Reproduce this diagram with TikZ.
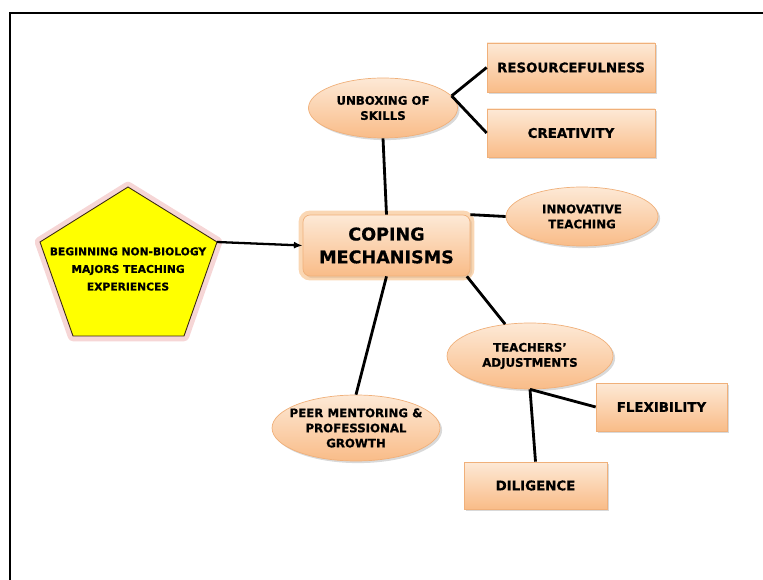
\documentclass[tikz,border=0pt]{standalone}
\usepackage{fontspec}
\setmainfont{DejaVu Sans}[BoldFeatures={FakeBold=0.6}]
\usetikzlibrary{shapes.geometric,shadows,arrows.meta}

\definecolor{peachtop}{HTML}{FDE9D6}
\definecolor{peachbot}{HTML}{F9BC88}
\definecolor{peachline}{HTML}{F0B07A}
\definecolor{glowpink}{HTML}{EBA3A3}
\definecolor{gloworange}{HTML}{F6BC82}
\definecolor{pentyellow}{HTML}{FFFF00}

\begin{document}
\begin{tikzpicture}[x=0.02cm,y=-0.02cm,
  rectbox/.style={rectangle, draw=peachline, top color=peachtop, bottom color=peachbot,
    drop shadow={shadow xshift=1.2pt, shadow yshift=-1.2pt, opacity=0.3},
    inner sep=0pt, font=\fontsize{7.6}{9}\selectfont\bfseries},
  ovalnode/.style={ellipse, draw=peachline, top color=peachtop, bottom color=peachbot,
    drop shadow={shadow xshift=1.2pt, shadow yshift=-1.2pt, opacity=0.3}, inner sep=0pt},
  ovaltext/.style={align=center, font=\fontsize{6.7}{8.6}\selectfont\bfseries},
  link/.style={line width=1.6pt}]

\useasboundingbox (0,0) rectangle (763,580);

% Frame
\draw[line width=1.5pt] (10,600) -- (10,13) -- (780,13);

% Pentagon
\coordinate (p1) at (128,187);
\coordinate (p2) at (217,242);
\coordinate (p3) at (184,336);
\coordinate (p4) at (73,336);
\coordinate (p5) at (40,242);
\draw[glowpink, line width=6pt, opacity=0.45, line join=round] (p1) -- (p2) -- (p3) -- (p4) -- (p5) -- cycle;
\draw[fill=pentyellow, draw=black!70!brown, line width=0.5pt] (p1) -- (p2) -- (p3) -- (p4) -- (p5) -- cycle;
\node[align=center, font=\fontsize{6.1}{10}\selectfont\bfseries] (exper) at (128,269)
  {BEGINNING NON-BIOLOGY\\MAJORS TEACHING\\EXPERIENCES};

% Central box
\node[rectbox, rounded corners=4pt, minimum width=3.34cm, minimum height=1.22cm,
  preaction={draw=gloworange, line width=5pt, opacity=0.6},
  align=center, font=\fontsize{10}{13}\selectfont\bfseries] (coping) at (386.5,245.5)
  {COPING\\MECHANISMS};

% Ellipses
\node[ovalnode, minimum width=2.98cm, minimum height=1.2cm] (unbox) at (383,108) {};
\node[ovaltext] at (unbox) {UNBOXING OF\\SKILLS};
\node[ovalnode, minimum width=3.04cm, minimum height=1.18cm] (innov) at (582,216.5) {};
\node[ovaltext] at (innov) {INNOVATIVE\\TEACHING};
\node[ovalnode, minimum width=3.32cm, minimum height=1.32cm] (teach) at (530,356) {};
\node[ovaltext] at (teach) {TEACHERS'\\ADJUSTMENTS};
\node[ovalnode, minimum width=3.36cm, minimum height=1.32cm] (peer) at (356,428) {};
\node[ovaltext] at (peer) {PEER MENTORING \&\\PROFESSIONAL\\GROWTH};

% Boxes
\node[rectbox, minimum width=3.36cm, minimum height=0.98cm] (resour) at (571,67.5) {RESOURCEFULNESS};
\node[rectbox, minimum width=3.36cm, minimum height=0.96cm] (creat) at (571,133) {CREATIVITY};
\node[rectbox, minimum width=2.62cm, minimum height=0.96cm] (flex) at (661.5,407) {FLEXIBILITY};
\node[rectbox, minimum width=2.86cm, minimum height=0.94cm] (dilig) at (535.5,485.5) {DILIGENCE};

% Connectors
\draw[line width=1.3pt, -{Latex[length=5pt,width=4pt]}] (p2) -- (coping.west);
\draw[link] (unbox.10) -- (resour.west);
\draw[link] (unbox.10) -- (creat.west);
\draw[link] (unbox.south) -- (coping.north);
\draw[link] (coping.north east) -- (innov.west);
\draw[link] ([xshift=-2pt]coping.south east) -- (teach.128);
\draw[link] (coping.south) -- (peer.north);
\draw[link] (teach.south) -- (flex.west);
\draw[link] (teach.south) -- (dilig.north);

\end{tikzpicture}
\end{document}
